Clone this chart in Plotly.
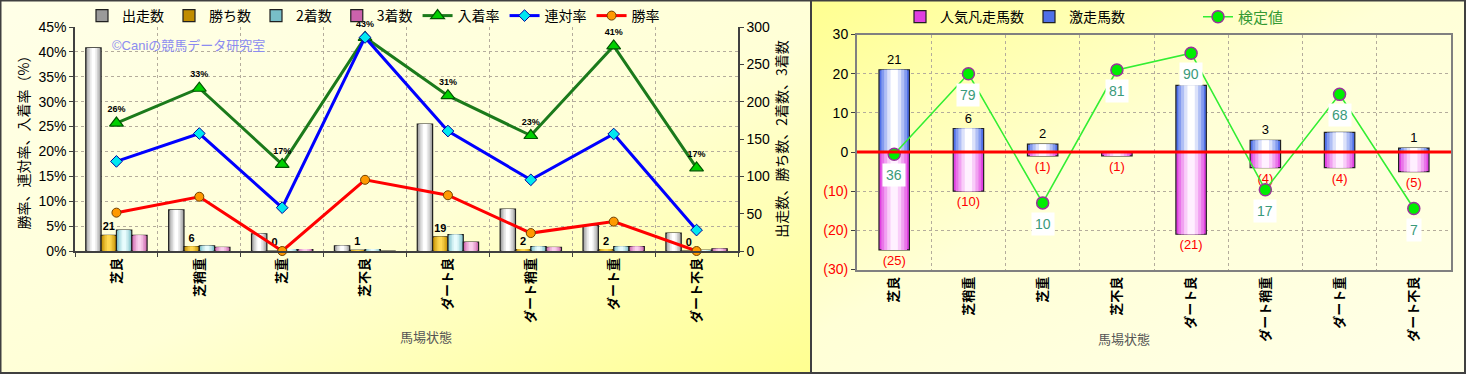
import base64
import plotly.graph_objects as go

W, H = 1466, 374

# ---------------- data ----------------
categories = ["芝良", "芝稍重", "芝重", "芝不良", "ダート良", "ダート稍重", "ダート重", "ダート不良"]
runners = [272, 55, 23, 7, 170, 56, 34, 24]
wins = [21, 6, 0, 1, 19, 2, 2, 0]
seconds = [28, 7, 2, 2, 22, 6, 6, 1]
thirds = [21, 5, 2, 0, 12, 5, 6, 3]
place_rate = [25.7, 32.7, 17.4, 42.9, 31.2, 23.2, 41.2, 16.7]
quinella_rate = [18.0, 23.6, 8.7, 42.9, 24.1, 14.3, 23.5, 4.2]
win_rate = [7.7, 10.9, 0.0, 14.3, 11.2, 3.6, 5.9, 0.0]
place_rate_labels = ["26%", "33%", "17%", "43%", "31%", "23%", "41%", "17%"]

strong_runs = [21, 6, 2, 0, 17, 3, 5, 1]
poor_runs = [-25, -10, -1, -1, -21, -4, -4, -5]
test_values = [36, 79, 10, 81, 90, 17, 68, 7]

left_y_ticks = [0, 5, 10, 15, 20, 25, 30, 35, 40, 45]
left_y_ticktext = ["0%", "5%", "10%", "15%", "20%", "25%", "30%", "35%", "40%", "45%"]
right_y_ticks = [-30, -20, -10, 0, 10, 20, 30]
right_y_ticktext = ['<span style="color:#FF0000">(30)</span>', '<span style="color:#FF0000">(20)</span>',
                    '<span style="color:#FF0000">(10)</span>', "0", "10", "20", "30"]

# ---------------- helpers ----------------
def xdom(a, b):
    return [a / W, b / W]

def ydom(top, bottom):
    return [1 - bottom / H, 1 - top / H]

def grad_uri(stops):
    st = "".join(f"<stop offset='{o}' stop-color='{c}'/>" for o, c in stops)
    svg = ("<svg xmlns='http://www.w3.org/2000/svg' width='100' height='100' preserveAspectRatio='none'>"
           "<defs><linearGradient id='g' x1='0' y1='0' x2='1' y2='1'>" + st +
           "</linearGradient></defs><rect width='100' height='100' fill='url(#g)'/></svg>")
    return "data:image/svg+xml;base64," + base64.b64encode(svg.encode()).decode()

def mix(c1, c2, t):
    a = [int(c1[i:i + 2], 16) for i in (1, 3, 5)]
    b = [int(c2[i:i + 2], 16) for i in (1, 3, 5)]
    return "#" + "".join(f"{round(x + (y - x) * t):02X}" for x, y in zip(a, b))

FONT = "Liberation Sans, Noto Sans CJK JP, sans-serif"
JFONT = "Noto Sans CJK JP, sans-serif"

fig = go.Figure()

def cyl_bar(y, name, xa, ya, width, offset, edge, center, legend=None,
            text=None, textcolor="black", textsize=10, textweight="bold"):
    fig.add_trace(go.Bar(
        x=categories, y=y, name=name, xaxis=xa, yaxis=ya, width=width, offset=offset,
        marker=dict(color=edge, line=dict(color="#202020", width=1.2)),
        legend=legend,
        text=text, textposition="outside" if text else None, constraintext="none",
        textfont=dict(size=textsize, color=textcolor, family=FONT, weight=textweight),
        cliponaxis=False, hoverinfo="skip"))
    steps = [(0.84, 0.3), (0.66, 0.55), (0.46, 0.8), (0.24, 1.0)]
    for frac, t in steps:
        w2 = width * frac
        fig.add_trace(go.Bar(
            x=categories, y=y, xaxis=xa, yaxis=ya, width=w2, offset=offset + (width - w2) / 2,
            marker=dict(color=mix(edge, center, t), line=dict(width=0)),
            showlegend=False, hoverinfo="skip"))

# ---------------- left panel bars ----------------
bw = 0.185
cyl_bar(runners, "出走数", "x", "y", bw, -2 * bw, "#9A9A9A", "#FFFFFF", legend="legend")
cyl_bar(wins, "勝ち数", "x", "y", bw, -bw, "#C08C00", "#FFD850", legend="legend",
        text=[str(v) for v in wins], textsize=11)
cyl_bar(seconds, "2着数", "x", "y", bw, 0, "#78BEC8", "#E8FCFD", legend="legend")
cyl_bar(thirds, "3着数", "x", "y", bw, bw, "#CC62AC", "#FAD0EC", legend="legend")

# ---------------- left panel lines ----------------
fig.add_trace(go.Scatter(
    x=categories, y=place_rate, name="入着率", xaxis="x", yaxis="y2", legend="legend",
    mode="lines+markers+text", text=place_rate_labels, textposition="top center",
    textfont=dict(size=9, color="black", family=FONT, weight="bold"),
    line=dict(color="#1B7A1B", width=3),
    marker=dict(symbol="triangle-up", size=12, color="#00D000", line=dict(color="#005500", width=1.2)),
    cliponaxis=False, hoverinfo="skip"))
fig.add_trace(go.Scatter(
    x=categories, y=quinella_rate, name="連対率", xaxis="x", yaxis="y2", legend="legend",
    mode="lines+markers", line=dict(color="#0000FF", width=3),
    marker=dict(symbol="diamond", size=9, color="#00E8F0", line=dict(color="#0000A0", width=1)),
    cliponaxis=False, hoverinfo="skip"))
fig.add_trace(go.Scatter(
    x=categories, y=win_rate, name="勝率", xaxis="x", yaxis="y2", legend="legend",
    mode="lines+markers", line=dict(color="#FF0000", width=3),
    marker=dict(symbol="circle", size=9, color="#FF9900", line=dict(color="#704000", width=1)),
    cliponaxis=False, hoverinfo="skip"))

# ---------------- right panel bars ----------------
rw = 0.41
cyl_bar(poor_runs, "人気凡走馬数", "x2", "y3", rw, -rw / 2, "#E040E0", "#FFF0FF",
        legend="legend2", text=[f"({-v})" for v in poor_runs], textcolor="#FF0000",
        textsize=13, textweight="normal")
cyl_bar(strong_runs, "激走馬数", "x2", "y3", rw, -rw / 2, "#5070E8", "#FFFFFF",
        legend="legend2", text=[str(v) if v else "" for v in strong_runs], textsize=13,
        textweight="normal")

fig.add_trace(go.Scatter(
    x=categories, y=test_values, name="検定値", xaxis="x2", yaxis="y4", legend="legend3",
    mode="lines+markers", line=dict(color="#33EE33", width=1.6),
    marker=dict(symbol="circle", size=12, color="#00EE00", line=dict(color="#993399", width=1.5)),
    cliponaxis=False, hoverinfo="skip"))

annotations = []
for c, v in zip(categories, test_values):
    annotations.append(dict(
        x=c, y=v, xref="x2", yref="y4", text=str(v), showarrow=False, yshift=-21,
        bgcolor="white", borderpad=3, font=dict(size=14, color="#3A9A7A", family=FONT)))

annotations += [
    dict(x=110 / W, y=1 - 45 / H, xref="paper", yref="paper", xanchor="left", yanchor="middle",
         text="©Caniの競馬データ研究室", showarrow=False,
         font=dict(size=13, color="#8C8CF0", family=FONT)),
    dict(x=398 / W, y=1 - 348 / H, xref="paper", yref="paper", text="馬場状態", showarrow=False,
         font=dict(size=13, color="#555555", family=JFONT)),
    dict(x=1152 / W, y=1 - 350 / H, xref="paper", yref="paper", text="馬場状態", showarrow=False,
         font=dict(size=13, color="#555555", family=JFONT)),
]

shapes = [
    dict(type="line", xref="x2 domain", yref="y3", x0=0, x1=1, y0=0, y1=0,
         line=dict(color="#FF0000", width=3), layer="above"),
    dict(type="rect", xref="paper", yref="paper", x0=0.5 / W, x1=1 - 1 / W, y0=1 / H, y1=1 - 0.5 / H,
         line=dict(color="#404040", width=2), layer="above"),
    dict(type="line", xref="paper", yref="paper", x0=811 / W, x1=811 / W, y0=0, y1=1,
         line=dict(color="#404040", width=2), layer="above"),
]

images = [
    dict(source=grad_uri([(0, "#FFFFE8"), (0.55, "#FFFFD6"), (1, "#FFFF90")]),
         xref="paper", yref="paper", x=0, y=1, sizex=811 / W, sizey=1,
         sizing="stretch", layer="below", xanchor="left", yanchor="top"),
    dict(source=grad_uri([(0, "#FFFF90"), (0.45, "#FFFFD6"), (1, "#FFFFE8")]),
         xref="paper", yref="paper", x=811 / W, y=1, sizex=1 - 811 / W, sizey=1,
         sizing="stretch", layer="below", xanchor="left", yanchor="top"),
]

GRID = "#B4AC9C"
DARK = "#404040"
tickfont = dict(size=14, color="black", family=FONT)
xtickfont = dict(size=13, color="black", family=JFONT, weight="bold")

fig.update_layout(
    width=W, height=H, margin=dict(l=0, r=0, t=0, b=0, autoexpand=False),
    paper_bgcolor="#FFFFE0", plot_bgcolor="#F6EAD4",
    barmode="overlay", font=dict(family=FONT),
    showlegend=True,
    legend=dict(orientation="h", x=82 / W, y=1 - 16 / H, xanchor="left", yanchor="middle",
                bgcolor="rgba(0,0,0,0)", font=dict(size=14, color="black", family=JFONT),
                traceorder="normal", itemwidth=30),
    legend2=dict(orientation="h", x=900 / W, y=1 - 17 / H, xanchor="left", yanchor="middle",
                 bgcolor="rgba(0,0,0,0)", font=dict(size=14, color="black", family=JFONT),
                 traceorder="normal", itemwidth=30),
    legend3=dict(orientation="h", x=1198 / W, y=1 - 17 / H, xanchor="left", yanchor="middle",
                 bgcolor="rgba(0,0,0,0)", font=dict(size=15, color="#339933", family=JFONT),
                 itemwidth=30),
    xaxis=dict(domain=xdom(75, 738), anchor="y", type="category", categoryorder="array",
               categoryarray=categories, tickangle=-90, tickfont=xtickfont, automargin=False,
               showline=True, linecolor=DARK, linewidth=1.5, ticks="outside", ticklen=4,
               tickcolor=DARK, tickson="boundaries", showgrid=True, gridcolor=GRID,
               griddash="dot", gridwidth=1),
    yaxis=dict(domain=ydom(27, 251), anchor="x", side="right", range=[0, 300], dtick=50,
               showgrid=False, zeroline=False, showline=True, linecolor=DARK, linewidth=1.5,
               ticks="outside", ticklen=4, tickcolor=DARK, tickfont=tickfont, automargin=False,
               title=dict(text="出走数、勝ち数、2着数、3着数", font=dict(size=14, color="black", family=JFONT),
                          standoff=8)),
    yaxis2=dict(overlaying="y", anchor="x", side="left", range=[0, 45], tickmode="array",
                tickvals=left_y_ticks, ticktext=left_y_ticktext,
                showgrid=True, gridcolor=GRID, griddash="dot", zeroline=False,
                showline=True, linecolor=DARK, linewidth=1.5, ticks="outside", ticklen=4,
                tickcolor=DARK, tickfont=tickfont, automargin=False,
                title=dict(text="勝率、連対率、入着率（%）", font=dict(size=14, color="black", family=JFONT),
                           standoff=6)),
    xaxis2=dict(domain=xdom(857, 1451), anchor="y3", type="category", categoryorder="array",
                categoryarray=categories, tickangle=-90, tickfont=xtickfont, automargin=False,
                showline=True, mirror=True, linecolor="#808080", linewidth=2, ticks="",
                tickson="boundaries", showgrid=True, gridcolor=GRID, griddash="dot", gridwidth=1),
    yaxis3=dict(domain=ydom(34.5, 269.5), anchor="x2", range=[-30, 30], tickvals=right_y_ticks,
                ticktext=right_y_ticktext, showgrid=True, gridcolor=GRID, griddash="dot",
                zeroline=False, showline=True, mirror=True, linecolor="#808080", linewidth=2,
                ticks="outside", ticklen=4, tickcolor=DARK, tickfont=tickfont, automargin=False),
    yaxis4=dict(overlaying="y3", anchor="x2", range=[-25.6, 100], visible=False, automargin=False),
    annotations=annotations, shapes=shapes, images=images,
)

fig.write_html("out.html")
